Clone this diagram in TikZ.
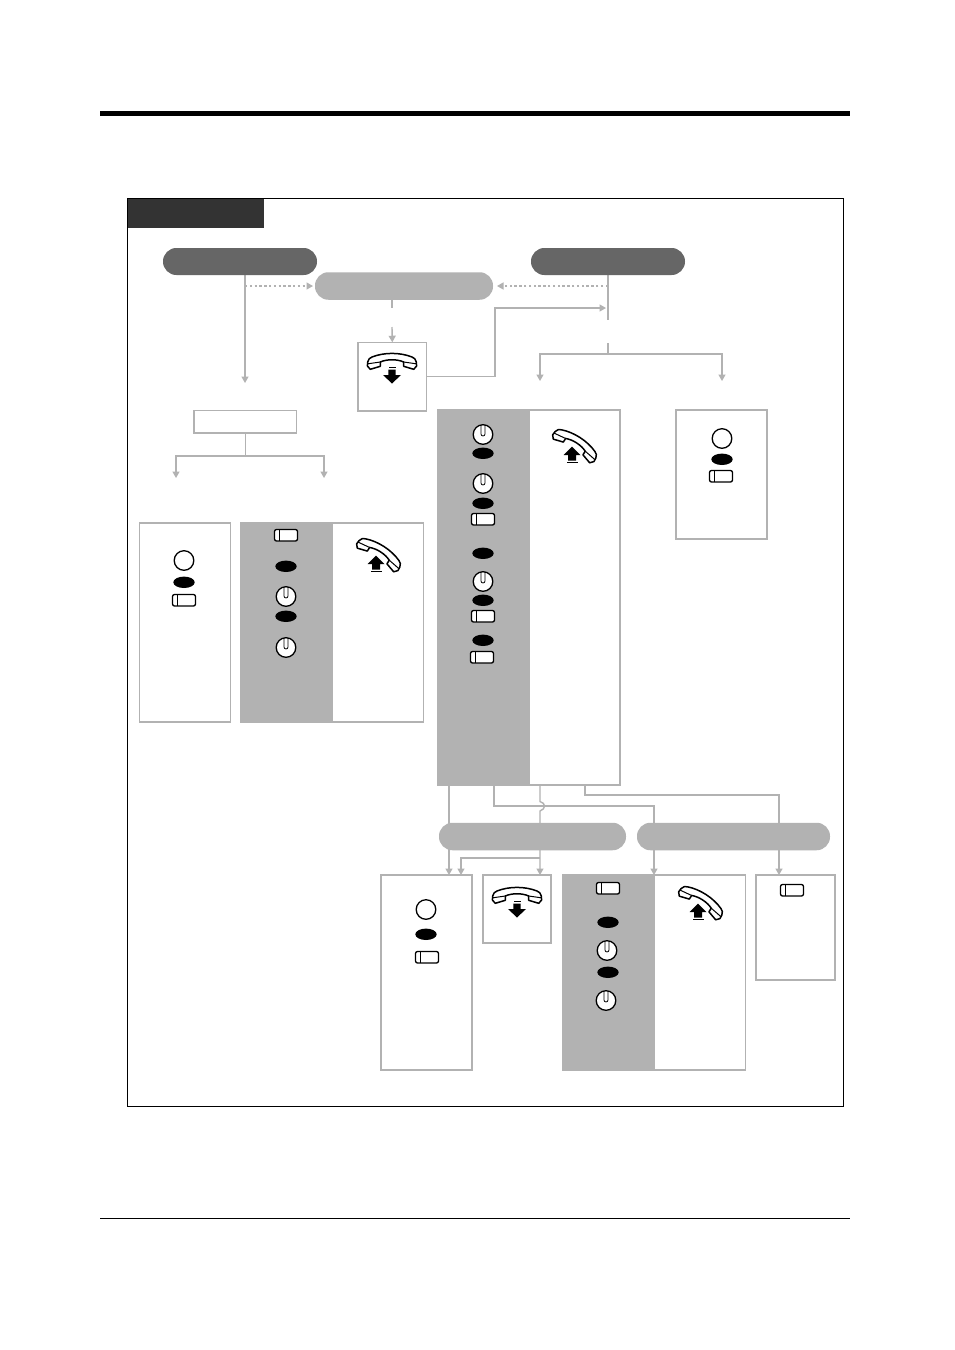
\documentclass[tikz,border=0pt]{standalone}
\usetikzlibrary{arrows.meta}
\definecolor{lg}{HTML}{B2B2B2}
\definecolor{dg}{HTML}{666666}
\definecolor{lab}{HTML}{333333}
\tikzset{x=1pt,y=-1pt,
  conn/.style={draw=lg,line width=1.4pt},
  arr/.style={conn,-{Triangle[length=6.5pt,width=7pt]}},
  dot/.style={conn,dash pattern=on 2.4pt off 2.4pt,-{Triangle[length=6.5pt,width=7pt]}},
  box/.style={draw=lg,line width=1.5pt,fill=white,rectangle,inner sep=0pt,outer sep=0pt},
  panel/.style={fill=lg,rectangle,inner sep=0pt,outer sep=0pt},
  darkpill/.style={fill=dg,rectangle,rounded corners=13.4pt,inner sep=0pt,outer sep=0pt,minimum height=27pt},
  lightpill/.style={fill=lg,rectangle,rounded corners=13.4pt,inner sep=0pt,outer sep=0pt,minimum height=27.5pt},
  ovalkey/.pic={\fill[black] (0,0.3) ellipse [x radius=10.7,y radius=5.7];},
  ringkey/.pic={\draw[black,line width=1.3pt,fill=white] (0,0.5) circle [radius=9.8];},
  dialkey/.pic={\draw[black,line width=1.3pt,fill=white] (0,0.5) circle [radius=9.8];
     \draw[black,line width=.8pt] (-2,-9.2) -- (-2,0) arc[start angle=180,end angle=360,x radius=2,y radius=-2] -- (2,-9.2);},
  rectkey/.pic={\draw[black,line width=1.3pt,fill=white,rounded corners=2pt] (-11.5,-5.5) rectangle (11.5,6);
     \draw[black,line width=1pt] (-6.5,-5.5) -- (-6.5,6);},
  handset/.pic={\draw[black,line width=1.5pt,fill=white,line join=round]
      (-24.3,1) .. controls (-24,-2) and (-22,-3) .. (-20,-4)
      .. controls (-8,-8.8) and (8,-8.8) .. (20,-4)
      .. controls (22,-3) and (24,-2) .. (24.3,1) -- (24.6,5) -- (21.7,8.3) -- (11.7,5.3) -- (11.7,1)
      .. controls (5,-2) and (-5,-2) .. (-11.7,1) -- (-11.7,5.3) -- (-21.7,8.3) -- (-24.6,5) -- cycle;
      \draw[black,line width=1pt] (-24.3,2.8) -- (-11.7,1) (24.3,2.8) -- (11.7,1);},
  arrowdown/.pic={\fill[black] (-3.5,-8) rectangle (3.5,-6.8);
      \fill[black] (-3.7,-5.5) -- (3.7,-5.5) -- (3.7,0) -- (9,0) -- (0,8.5) -- (-9,0) -- (-3.7,0) -- cycle;},
  arrowup/.pic={\fill[black] (-5.5,6.8) rectangle (5.5,8);
      \fill[black] (-4,5.5) -- (4,5.5) -- (4,0) -- (8.5,0) -- (0,-8.5) -- (-8.5,0) -- (-4,0) -- cycle;},
  phonedown/.pic={\pic at (0,8) {handset}; \pic at (0,22) {arrowdown};},
  phoneup/.pic={\pic[rotate=-33] at (0,0) {handset}; \pic at (-4,11) {arrowup};},
}
\begin{document}
\begin{tikzpicture}
\useasboundingbox (0,0) rectangle (954,1350);
\fill[white] (0,0) rectangle (954,1350);
% page rules
\node[fill=black,inner sep=0pt,outer sep=0pt,minimum width=750pt,minimum height=5.4pt] (toprule) at (475,113.5) {};
\node[fill=black,inner sep=0pt,outer sep=0pt,minimum width=750pt,minimum height=1pt] (botrule) at (475,1218.5) {};
% frame
\node[draw=black,line width=1.3pt,inner sep=0pt,outer sep=0pt,minimum width=716pt,minimum height=908pt] (frame) at (485.5,652.5) {};
\node[fill=lab,inner sep=0pt,outer sep=0pt,minimum width=136pt,minimum height=29pt] (tab) at (196,213.5) {};

% boxes (connector targets)
\node[box,minimum width=68.5pt,minimum height=68.5pt] (boxA) at (392.3,376.5) {};
\node[box,minimum width=102.5pt,minimum height=22.5pt] (boxB) at (245.3,421.5) {};
\node[box,minimum width=91pt,minimum height=199pt] (boxC) at (184.8,622.5) {};
\node[box,minimum width=183pt,minimum height=199pt] (boxD) at (332,622.5) {};
\node[panel,minimum width=92.5pt,minimum height=199.5pt] (panD) at (286.75,622.5) {};
\node[box,minimum width=182.5pt,minimum height=375pt] (boxE) at (528.5,597.5) {};
\node[panel,minimum width=92.5pt,minimum height=375.5pt] (panE) at (483.75,597.5) {};
\node[box,minimum width=91pt,minimum height=129pt] (boxF) at (721.6,474.5) {};
\node[box,minimum width=91pt,minimum height=195pt] (boxG) at (426.5,972.5) {};
\node[box,minimum width=68pt,minimum height=68pt] (boxH) at (517,909) {};
\node[box,minimum width=183pt,minimum height=195pt] (boxI) at (654,972.5) {};
\node[panel,minimum width=92.5pt,minimum height=195.5pt] (panI) at (608.75,972.5) {};
\node[box,minimum width=79pt,minimum height=105pt] (boxJ) at (795.5,927.5) {};

% named routing points
\coordinate (leftdrop) at (245,275);
\coordinate (leftend) at (245,383);
\coordinate (leftdot) at (245,286);
\coordinate (midtop) at (392,300);
\coordinate (midstub) at (392,308);
\coordinate (midarr) at (392,327);
\coordinate (rightdrop) at (608,275);
\coordinate (rightstub) at (608,320);
\coordinate (rightdot) at (608,286);
\coordinate (stub2) at (608,343);
\coordinate (fork) at (608,354);
\coordinate (forkL) at (540,381);
\coordinate (forkR) at (722,381);
\coordinate (returnend) at (606,308);
\coordinate (boxBfork) at (245.3,456);
\coordinate (bL) at (176,478);
\coordinate (bR) at (324,478);
\coordinate (e1) at (449,785);
\coordinate (e2) at (494,785);
\coordinate (e3) at (540,785);
\coordinate (e4) at (585,785);
\coordinate (t1) at (449,875);
\coordinate (t2) at (461,875);
\coordinate (t3) at (540,875);
\coordinate (t4) at (654,875);
\coordinate (t5) at (779,875);

% connectors
\draw[conn] (leftdrop) -- (leftdot);
\draw[arr] (leftdot) -- (leftend);
\draw[conn] (midtop) -- (midstub);
\draw[arr] (midarr) -- (boxA.north);
\draw[conn] (rightdrop) -- (rightstub);
\draw[arr] (boxA.east) -- (495,376.5) -- (495,308) -- (returnend);
\draw[conn] (stub2) -- (fork);
\draw[arr] (fork) -- (540,354) -- (forkL);
\draw[arr] (fork) -- (722,354) -- (forkR);
\draw[conn] (boxB.south) -- (boxBfork);
\draw[arr] (boxBfork) -- (176,456) -- (bL);
\draw[arr] (boxBfork) -- (324,456) -- (bR);
\draw[arr] (e1) -- (t1);
\draw[arr] (e2) -- (494,806) -- (654,806) -- (t4);
\draw[arr] (e4) -- (585,795) -- (779,795) -- (t5);
\draw[arr] (e3) -- (540,801.5) .. controls (546,803) and (546,809) .. (540,811) -- (t3);
\draw[arr] (540,858) -- (461,858) -- (t2);
\draw[dot] (leftdot) -- (313,286);
\draw[dot] (rightdot) -- (497,286);

% pills
\node[darkpill,minimum width=154pt] (pillL) at (240,261.5) {};
\node[darkpill,minimum width=154pt] (pillR) at (608,261.5) {};
\node[lightpill,minimum width=178pt] (pillM) at (404,286) {};
\node[lightpill,minimum width=187pt] (pillG) at (532.5,836.5) {};
\node[lightpill,minimum width=193pt] (pillH) at (733.5,836.5) {};

% phones
\pic at (392,353) {phonedown};
\pic at (517,887) {phonedown};
\pic at (380,553) {phoneup};
\pic at (576,444) {phoneup};
\pic at (702,901) {phoneup};

% keys: box C
\pic at (184,560) {ringkey};
\pic at (184,582) {ovalkey};
\pic at (184,600) {rectkey};
% panel D
\pic at (286,535) {rectkey};
\pic at (286,566) {ovalkey};
\pic at (286,596) {dialkey};
\pic at (286,616) {ovalkey};
\pic at (286,647) {dialkey};
% panel E
\pic at (483,434) {dialkey};
\pic at (483,453) {ovalkey};
\pic at (483,483) {dialkey};
\pic at (483,503) {ovalkey};
\pic at (483,519) {rectkey};
\pic at (483,553) {ovalkey};
\pic at (483,581) {dialkey};
\pic at (483,600) {ovalkey};
\pic at (483,616) {rectkey};
\pic at (483,640) {ovalkey};
\pic at (482,657) {rectkey};
% box F
\pic at (722,438) {ringkey};
\pic at (722,459) {ovalkey};
\pic at (721,476) {rectkey};
% box G
\pic at (426,909) {ringkey};
\pic at (426,934) {ovalkey};
\pic at (427,957) {rectkey};
% panel I
\pic at (608,888) {rectkey};
\pic at (608,922) {ovalkey};
\pic at (607,950) {dialkey};
\pic at (608,972) {ovalkey};
\pic at (606,1000) {dialkey};
% box J
\pic at (792,890) {rectkey};
\end{tikzpicture}
\end{document}
